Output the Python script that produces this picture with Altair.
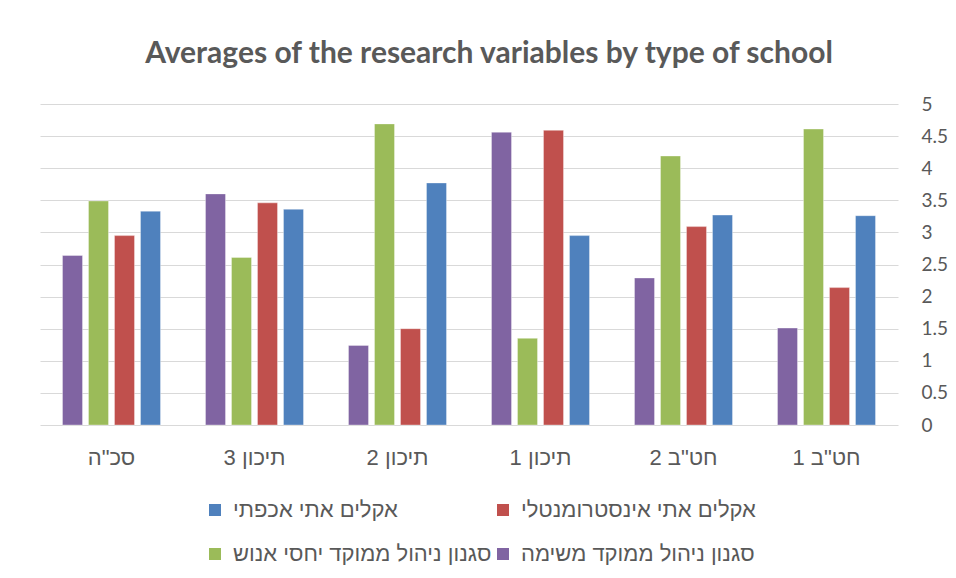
import altair as alt
import pandas as pd

categories = ['חט"ב 1', 'חט"ב 2', "תיכון 1", "תיכון 2", "תיכון 3", 'סכ"ה']
series = [
    "אקלים אתי אכפתי",
    "אקלים אתי אינסטרומנטלי",
    "סגנון ניהול ממוקד יחסי אנוש",
    "סגנון ניהול ממוקד משימה",
]
colors = ["#4F81BD", "#C0504D", "#9BBB59", "#8064A2"]

caring = [3.26, 3.27, 2.95, 3.77, 3.36, 3.33]
instrumental = [2.14, 3.09, 4.59, 1.50, 3.46, 2.95]
human_rel = [4.61, 4.19, 1.35, 4.69, 2.61, 3.49]
task = [1.51, 2.29, 4.56, 1.24, 3.60, 2.64]

values = [caring, instrumental, human_rel, task]
rows = []
for s, vals in zip(series, values):
    for c, v in zip(categories, vals):
        rows.append({"category": c, "series": s, "value": v})
df = pd.DataFrame(rows)

x_order = categories[::-1]
offset_order = [series[3], series[2], series[1], series[0]]
# legend is filled column by column: blue, green | red, purple
legend_order = [series[0], series[2], series[1], series[3]]
legend_colors = [colors[0], colors[2], colors[1], colors[3]]
y_ticks = [0, 0.5, 1, 1.5, 2, 2.5, 3, 3.5, 4, 4.5, 5]

chart = (
    alt.Chart(df)
    .mark_bar(stroke="white", strokeWidth=0.7, strokeOpacity=0.5)
    .encode(
        x=alt.X(
            "category:N",
            sort=x_order,
            title=None,
            scale=alt.Scale(paddingInner=0, paddingOuter=0),
            axis=alt.Axis(
                labelAngle=0,
                ticks=False,
                tickSize=0,
                domain=False,
                labelPadding=22,
                labelFont="Liberation Sans",
                labelFontSize=22,
                labelColor="#595959",
            ),
        ),
        xOffset=alt.XOffset(
            "series:N",
            sort=offset_order,
            scale=alt.Scale(paddingInner=0.23, paddingOuter=0.865),
        ),
        y=alt.Y(
            "value:Q",
            title=None,
            scale=alt.Scale(domain=[0, 5], nice=False),
            axis=alt.Axis(
                orient="right",
                values=y_ticks,
                format="~g",
                ticks=False,
                domain=False,
                labelPadding=23,
                labelFont="Lato",
                labelFontSize=19,
                labelColor="#595959",
                gridColor="#D9D9D9",
                gridWidth=1.2,
            ),
        ),
        color=alt.Color(
            "series:N",
            sort=legend_order,
            scale=alt.Scale(domain=legend_order, range=legend_colors),
            legend=alt.Legend(
                title=None,
                orient="none",
                legendX=164,
                legendY=395,
                columns=2,
                columnPadding=0,
                rowPadding=22,
                symbolType="square",
                symbolSize=144,
                symbolStrokeWidth=0,
                labelOffset=7,
                labelFont="Liberation Sans",
                labelFontSize=22,
                labelColor="#595959",
                labelLimit=400,
            ),
        ),
    )
    .properties(
        width=858,
        height=321,
        title=alt.TitleParams(
            "Averages of the research variables by type of school",
            font="Lato",
            fontSize=30,
            fontWeight="bold",
            color="#595959",
            anchor="middle",
            dx=20,
            offset=26,
        ),
        autosize=alt.AutoSizeParams(type="none"),
        padding={"left": 32, "top": 96, "right": 50, "bottom": 140},
    )
    .configure_view(stroke=None)
)

chart.save("out.html", embed_options={"renderer": "svg", "actions": False})
